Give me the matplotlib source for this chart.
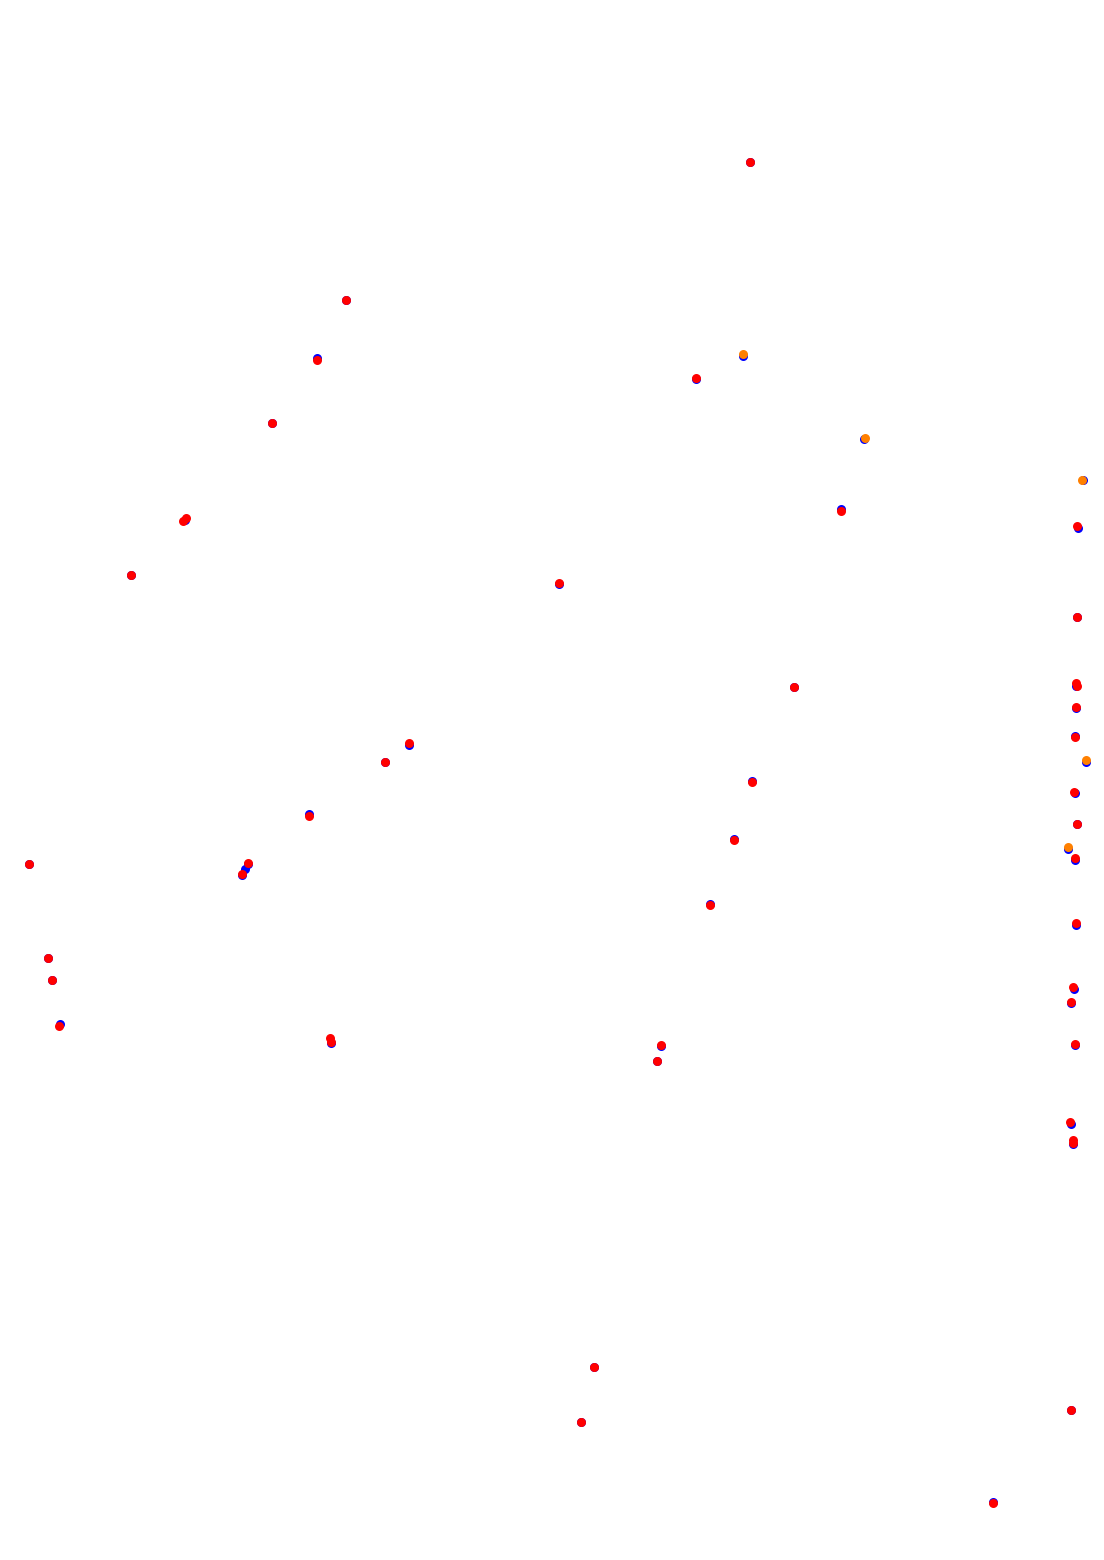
import matplotlib
matplotlib.use('Agg')
import matplotlib.pyplot as plt

# Positions (pixel units, origin top-left)
blue_x = [750, 346, 317, 743, 696, 272, 864, 1083, 185, 841, 1078, 131, 559, 1077, 794,
          1076, 1076, 1075, 1086, 409, 385, 1075, 752, 1077, 309, 734, 1068, 1075, 29,
          248, 245, 242, 710, 1076, 48, 52, 1074, 1071, 60, 331, 661, 1075, 657, 1071,
          1073, 594, 581, 1071, 993]
blue_y = [162, 300, 358, 356, 379, 423, 439, 480, 520, 509, 528, 575, 584, 617, 687,
          686, 708, 736, 762, 745, 762, 793, 781, 824, 814, 839, 849, 860, 864,
          864, 869, 875, 904, 925, 958, 980, 989, 1003, 1024, 1043, 1046, 1045, 1061, 1124,
          1144, 1367, 1422, 1410, 1502]

orange_x = [743, 865, 1082, 1086, 1068]
orange_y = [354, 438, 480, 760, 847]

red_x = [750, 346, 317, 696, 272, 186, 183, 841, 1077, 131, 559, 1077, 794, 1076, 1077,
         1076, 1075, 409, 385, 1074, 752, 1077, 309, 734, 1075, 29, 248, 242, 710,
         1076, 48, 52, 1073, 1071, 59, 330, 331, 661, 1075, 657, 1070, 1073, 1073,
         594, 581, 1071, 993]
red_y = [162, 300, 360, 378, 423, 518, 521, 511, 526, 575, 583, 617, 687, 683, 686,
         707, 737, 743, 762, 792, 782, 824, 816, 840, 858, 864, 863, 874, 905,
         923, 958, 980, 987, 1002, 1026, 1038, 1042, 1045, 1044, 1061, 1122, 1140, 1143,
         1367, 1422, 1410, 1503]

fig = plt.figure(figsize=(11.04, 15.6), dpi=100)
ax = fig.add_axes([0, 0, 1, 1])
ax.set_xlim(0, 1104)
ax.set_ylim(1560, 0)
ax.axis('off')

ax.scatter(blue_x, blue_y, s=42, c='blue', linewidths=0, antialiased=False)
ax.scatter(orange_x, orange_y, s=42, c='#ff8000', linewidths=0, antialiased=False)
ax.scatter(red_x, red_y, s=42, c='red', linewidths=0, antialiased=False)

fig.savefig('out.png', dpi=100, facecolor='white')
